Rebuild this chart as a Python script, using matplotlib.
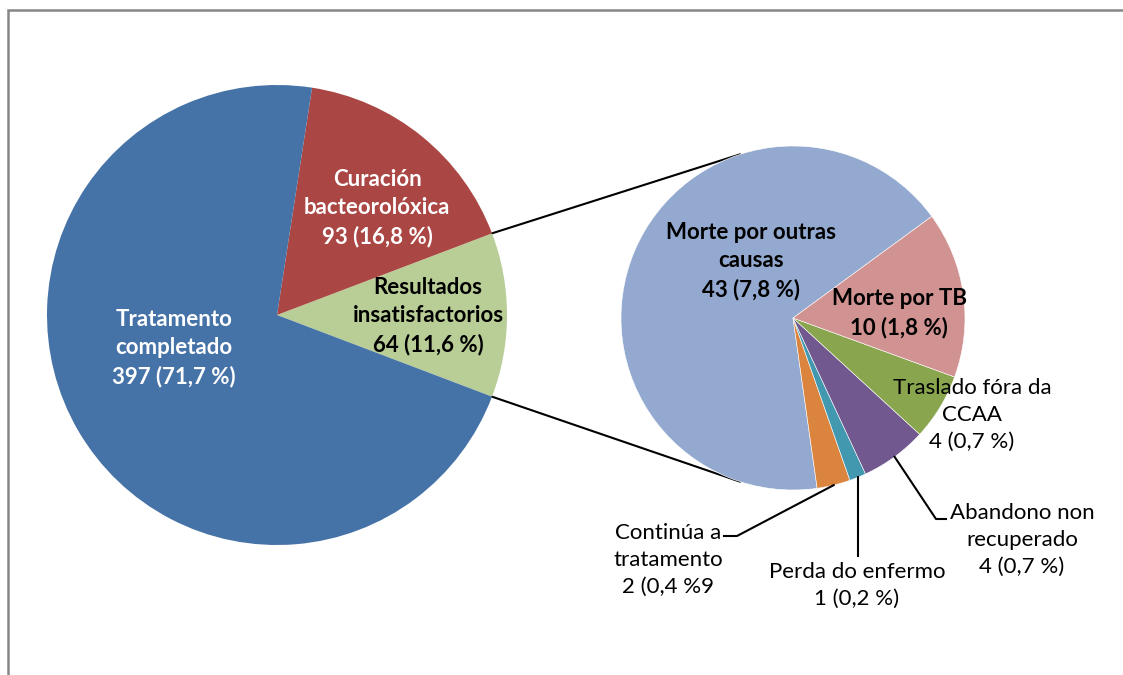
import matplotlib.pyplot as plt
import numpy as np
from matplotlib.patches import Rectangle

W, H = 1123, 675

# Datos gráfico principal
main_vals = [64, 93, 397]
main_labels = ['Resultados\ninsatisfactorios\n64 (11,6 %)',
               'Curación\nbacteorolóxica\n93 (16,8 %)',
               'Tratamento\ncompletado\n397 (71,7 %)']
main_cols = ['#B9CD96', '#AA4643', '#4572A7']

# Datos gráfico secundario (desglose de resultados insatisfactorios)
sub_vals = [43, 2, 1, 4, 4, 10]
sub_labels = ['Morte por outras\ncausas\n43 (7,8 %)',
              'Continúa a\ntratamento\n2 (0,4 %9',
              'Perda do enfermo\n1 (0,2 %)',
              'Abandono non\nrecuperado\n4 (0,7 %)',
              'Traslado fóra da\nCCAA\n4 (0,7 %)',
              'Morte por TB\n10 (1,8 %)']
sub_cols = ['#93A9CF', '#DB843D', '#4198AF', '#71588F', '#89A54E', '#D19392']

plt.rcParams['font.family'] = ['Lato', 'DejaVu Sans']

fig = plt.figure(figsize=(W / 100, H / 100), dpi=100)
ax = fig.add_axes([0, 0, 1, 1])

def py(y):
    return H - y

# Marco
ax.add_patch(Rectangle((8, -20), W + 20, py(10) + 20, fill=False,
                       edgecolor='#868686', lw=1.8, clip_on=False))

# Pastel principal
c1, r1 = (277, py(315)), 230
a_half = 360 * main_vals[0] / sum(main_vals) / 2
ax.pie(main_vals, colors=main_cols, startangle=-a_half, center=c1, radius=r1,
       wedgeprops=dict(linewidth=0), frame=True)

# Pastel secundario
c2, r2 = (793, py(318)), 172
wedges2, _ = ax.pie(sub_vals, colors=sub_cols, startangle=36.2, center=c2, radius=r2,
                    wedgeprops=dict(linewidth=0.4, edgecolor='white'), frame=True)
ax.set_xlim(0, W)
ax.set_ylim(0, H)
ax.set_aspect('equal')
ax.axis('off')

# Liñas de conexión
for s in (1, -1):
    a1 = np.radians(s * a_half)
    a2 = np.radians(s * 108)
    ax.plot([c1[0] + r1 * np.cos(a1), c2[0] + r2 * np.cos(a2)],
            [c1[1] + r1 * np.sin(a1), c2[1] + r2 * np.sin(a2)],
            color='black', lw=1.5, zorder=0.5)

fs = 16
ls = 1.43
# Etiquetas principais
ax.text(174, py(348), main_labels[2], color='white', fontsize=fs, fontweight='bold',
        ha='center', va='center', linespacing=ls)
ax.text(377, py(208), main_labels[1], color='white', fontsize=fs, fontweight='bold',
        ha='center', va='center', linespacing=ls)
ax.text(428, py(316), main_labels[0], color='black', fontsize=fs, fontweight='bold',
        ha='center', va='center', linespacing=ls)

# Etiquetas secundarias
ax.text(751, py(261), sub_labels[0], fontsize=fs, fontweight='bold',
        ha='center', va='center', linespacing=ls)
ax.text(899, py(313), sub_labels[5], fontsize=fs, fontweight='bold',
        ha='center', va='center', linespacing=ls)
ax.text(972, py(415), sub_labels[4], fontsize=fs,
        ha='center', va='center', linespacing=ls)
ax.text(1022, py(540), sub_labels[3], fontsize=fs,
        ha='center', va='center', linespacing=ls)
ax.text(857, py(585), sub_labels[2], fontsize=fs,
        ha='center', va='center', linespacing=ls)
ax.text(668, py(560), sub_labels[1], fontsize=fs,
        ha='center', va='center', linespacing=ls)

# Liñas guía
def mid_pt(w):
    a = np.radians((w.theta1 + w.theta2) / 2)
    return c2[0] + r2 * np.cos(a), c2[1] + r2 * np.sin(a)

guides = {1: [(737, py(536)), (724, py(536))],
          2: [(mid_pt(wedges2[2])[0], py(556))],
          3: [(936, py(519)), (946, py(519))]}
for i, pts in guides.items():
    x0, y0 = mid_pt(wedges2[i])
    xs = [x0] + [p[0] for p in pts]
    ys = [y0] + [p[1] for p in pts]
    ax.plot(xs, ys, color='black', lw=1.5)

fig.savefig('out.png', dpi=100)
